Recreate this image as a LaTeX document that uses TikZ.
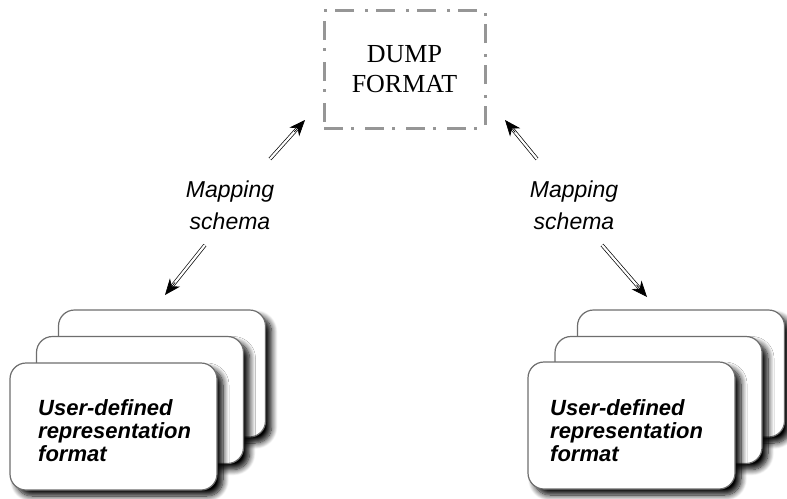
\documentclass[tikz,border=0pt]{standalone}
\usepackage{fontspec}
\setmainfont{Liberation Serif}
\newfontfamily\sansf{Liberation Sans}
\usetikzlibrary{arrows.meta,shadows.blur,calc}
\definecolor{cardedge}{RGB}{110,110,110}
\definecolor{dumpgray}{RGB}{150,150,150}
\tikzset{
  card/.style={draw=cardedge, line width=1.2pt, fill=white, rounded corners=16pt,
    minimum width=207pt, minimum height=127pt, inner sep=0pt,
    blur shadow={shadow xshift=6pt, shadow yshift=-6pt, shadow blur radius=6pt, shadow blur steps=10, shadow opacity=100}},
  cardtext/.style={anchor=north west, inner sep=0pt, align=left,
    font=\sansf\bfseries\itshape\fontsize{22}{23}\selectfont},
  maplabel/.style={align=center, font=\sansf\itshape\fontsize{23}{32}\selectfont},
  dumpbox/.style={draw=dumpgray, line width=3pt, dash pattern=on 19pt off 8pt on 3pt off 11pt,
    minimum width=161pt, minimum height=118pt, align=center,
    font=\fontsize{26}{30}\selectfont},
  shaft/.style={draw=black, line width=0.7pt, double=white, double distance=2.2pt, shorten >=8pt},
  tiphead/.style={-{Stealth[length=16pt,width=13pt,inset=5pt]}, line width=0.7pt}
}
\begin{document}
\begin{tikzpicture}[x=1pt,y=-1pt]
\useasboundingbox (0,0) rectangle (787,498);
% dump format
\node[dumpbox] (dump) at (404.5,69) {DUMP\\FORMAT};
% left stack
\node[card] (lback) at (162,373.5) {};
\node[card] (lmid) at (140,400) {};
\node[card] (lfront) at (113.5,426.5) {};
\node[cardtext] (ltext) at (38,399) {User-defined\\representation\\format};
% right stack
\node[card] (rback) at (681,373.5) {};
\node[card] (rmid) at (658.5,400) {};
\node[card] (rfront) at (631.5,425.5) {};
\node[cardtext] (rtext) at (550,399) {User-defined\\representation\\format};
% labels
\node[maplabel] (lmap) at (230,205) {Mapping\\schema};
\node[maplabel] (rmap) at (574,205) {Mapping\\schema};
% arrow end coordinates
\coordinate (lus) at (270,159);
\coordinate (lut) at (305,120);
\coordinate (lds) at (205,245);
\coordinate (ldt) at (165,295);
\coordinate (rus) at (537,159);
\coordinate (rut) at (505,120);
\coordinate (rds) at (602,245);
\coordinate (rdt) at (647,297);
% arrows
\foreach \s/\t in {lus/lut,lds/ldt,rus/rut,rds/rdt}{
  \draw[shaft] (\s) -- (\t);
  \draw[tiphead] ($(\t)!16pt!(\s)$) -- (\t);
}
\end{tikzpicture}
\end{document}
